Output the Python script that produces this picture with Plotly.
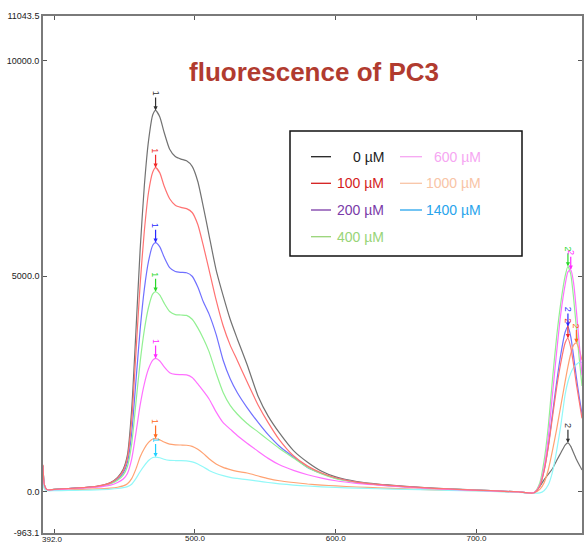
import plotly.graph_objects as go

# ---------------- data ----------------
wavelengths = [392, 393, 395, 400, 410, 420, 430, 440, 445, 449, 452, 455, 458, 461, 464, 467, 470, 472,
               475, 478, 482, 486, 490, 494, 498, 502, 506, 510, 515, 520, 525, 530, 537, 545, 552, 560,
               570, 580, 590, 600, 615, 630, 650, 670, 690, 710, 730, 741, 745, 748, 751, 754, 757, 760,
               763, 765, 767, 769, 771, 773, 775]

i_0 = [600, 150, 40, 50, 70, 90, 120, 210, 330, 520, 850, 1900, 3700, 5600, 7100, 8150, 8750, 8850,
       8700, 8350, 7950, 7780, 7720, 7680, 7550, 7200, 6600, 5950, 5150, 4550, 4000, 3550, 2950, 2200, 1750, 1360,
       950, 680, 470, 340, 230, 170, 120, 80, 50, 20, -10, -30, 120, 270, 400, 530, 720, 900,
       1080, 1130, 1050, 900, 750, 620, 500]

i_100 = [620, 150, 40, 50, 70, 90, 120, 200, 310, 480, 780, 1650, 3200, 4800, 6050, 6950, 7420, 7520,
         7400, 7100, 6800, 6650, 6600, 6570, 6480, 6200, 5700, 5150, 4450, 3850, 3400, 3050, 2550, 2000, 1600, 1200,
         830, 590, 430, 320, 220, 165, 115, 75, 45, 20, -10, -30, 130, 470, 1020, 1720, 2420, 3000,
         3450, 3560, 3350, 2950, 2500, 2100, 1700]

i_200 = [600, 150, 40, 50, 70, 90, 115, 190, 290, 430, 680, 1350, 2550, 3750, 4700, 5350, 5720, 5780,
         5680, 5450, 5200, 5110, 5090, 5080, 5000, 4750, 4400, 4120, 3650, 3050, 2620, 2300, 1950, 1600, 1320, 1050,
         800, 560, 420, 310, 215, 160, 110, 70, 45, 20, -10, -25, 130, 480, 1050, 1800, 2550, 3200,
         3700, 3830, 3600, 3150, 2650, 2200, 1800]

i_400 = [600, 150, 40, 50, 65, 85, 110, 180, 260, 380, 580, 1100, 2050, 3000, 3750, 4280, 4590, 4640,
         4560, 4380, 4180, 4110, 4100, 4090, 4000, 3800, 3550, 3250, 2750, 2300, 2000, 1800, 1580, 1380, 1200, 1000,
         780, 560, 410, 300, 210, 155, 105, 70, 45, 20, -10, -25, 200, 700, 1500, 2600, 3600, 4400,
         5000, 5230, 5050, 4500, 3800, 3100, 2450]

i_600 = [580, 140, 40, 45, 60, 80, 100, 150, 210, 290, 420, 750, 1350, 2000, 2500, 2850, 3050, 3090,
         3030, 2900, 2760, 2720, 2715, 2710, 2650, 2500, 2330, 2150, 1850, 1600, 1450, 1300, 1120, 930, 770, 620,
         490, 390, 310, 250, 190, 150, 100, 65, 40, 15, -10, -25, 150, 550, 1250, 2250, 3250, 4150,
         4800, 5100, 5150, 4850, 4200, 3450, 2700]

i_1000 = [300, 80, 30, 30, 40, 50, 60, 80, 100, 130, 180, 300, 520, 800, 1000, 1140, 1220, 1230,
          1200, 1150, 1100, 1085, 1080, 1075, 1050, 980, 880, 760, 640, 560, 510, 470, 430, 360, 300, 250,
          210, 175, 150, 130, 105, 85, 60, 40, 25, 10, -15, -30, 50, 200, 500, 950, 1450, 2000,
          2550, 2900, 3200, 3400, 3450, 3300, 3050]

i_1400 = [250, 60, 20, 20, 25, 30, 40, 55, 70, 90, 115, 170, 300, 460, 600, 720, 790, 800,
          785, 750, 725, 720, 718, 712, 690, 640, 570, 490, 420, 370, 330, 305, 275, 240, 210, 180,
          150, 128, 110, 95, 80, 65, 50, 35, 20, 5, -20, -35, -30, 20, 150, 450, 950, 1550,
          2250, 2550, 2750, 2880, 2950, 3000, 3000]

conc_labels = ["0 µM", "100 µM", "200 µM", "400 µM", "600 µM", "1000 µM", "1400 µM"]
series = [i_0, i_100, i_200, i_400, i_600, i_1000, i_1400]

line_colors = ["#727272", "#ff7272", "#7070ff", "#92f092", "#ff70ff", "#ffa272", "#92f8f8"]
mark_colors = ["#303030", "#f02828", "#2a2aff", "#2ad82a", "#ff2aff", "#ff6a20", "#20d0ff"]
legend_colors = ["#222222", "#d41c1c", "#7a3aa8", "#98d478", "#f6a6f2", "#f8c4a6", "#28a4ec"]
has_second_mark = [True, True, True, True, True, True, False]

y_tickvals = [-963.1, 0.0, 5000.0, 10000.0, 11043.5]
y_ticktext = ["-963.1", "0.0", "5000.0", "10000.0", "11043.5"]
x_tickvals = [400, 500, 600, 700, 775]
x_ticktext = ["", "500.0", "600.0", "700.0", "775"]
x_start_label = "392.0"
x_start_value = 392

title_text = "fluorescence of PC3"

# ---------------- layout constants ----------------
W, H = 584, 545
ML, MR, MT, MB = 43, 2, 16, 12
PW, PH = W - ML - MR, H - MT - MB


def px(xp):
    return (xp - ML) / PW


def py(yp):
    return (H - MB - yp) / PH


fig = go.Figure()

draw_order = [0, 2, 3, 5, 6, 4, 1]
for k in draw_order:
    fig.add_trace(go.Scatter(
        x=wavelengths, y=series[k], mode="lines", name=conc_labels[k],
        line=dict(color=line_colors[k], width=1.2, shape="spline", smoothing=0.6),
        showlegend=False, hoverinfo="skip"))

annotations = []
shapes = []

# peak marks "1" and "2"
for k, ys in enumerate(series):
    idx1 = max((i for i, w in enumerate(wavelengths) if 440 <= w <= 520), key=lambda i: ys[i])
    annotations.append(dict(
        x=wavelengths[idx1], y=ys[idx1], xref="x", yref="y", text="1", showarrow=True,
        ax=0, ay=-17, arrowhead=2, arrowsize=0.7, arrowwidth=1.2, arrowcolor=mark_colors[k],
        textangle=90, font=dict(size=9, color=mark_colors[k], family="Liberation Sans"), standoff=0))
    if has_second_mark[k]:
        idx2 = max((i for i, w in enumerate(wavelengths) if 740 <= w <= 775), key=lambda i: ys[i])
        annotations.append(dict(
            x=wavelengths[idx2], y=ys[idx2], xref="x", yref="y", text="2", showarrow=True,
            ax=0, ay=-17, arrowhead=2, arrowsize=0.7, arrowwidth=1.2, arrowcolor=mark_colors[k],
            textangle=90, font=dict(size=9, color=mark_colors[k], family="Liberation Sans"), standoff=0))

# start label of the x axis (placed a little to the right so it clears the -963.1 label)
annotations.append(dict(
    x=x_start_value, y=0, xref="x", yref="paper", text=x_start_label, showarrow=False,
    xanchor="center", yanchor="top", xshift=9, yshift=0,
    font=dict(size=8, color="#222222", family="Liberation Sans")))

# title
annotations.append(dict(
    x=px(314), y=py(72), xref="paper", yref="paper", text="<b>" + title_text + "</b>",
    showarrow=False, xanchor="center", yanchor="middle",
    font=dict(size=26, color="#b13b2f", family="Liberation Sans")))

# custom legend box
shapes.append(dict(type="rect", xref="paper", yref="paper",
                   x0=px(290), x1=px(522), y0=py(256), y1=py(131),
                   line=dict(color="#111111", width=1.5), fillcolor="rgba(255,255,255,0)"))
row_y = [156.7, 183.3, 210, 236.7]
for k, lab in enumerate(conc_labels):
    col = 0 if k < 4 else 1
    row = k if k < 4 else k - 4
    lx0, lx1, tx = (311, 331, 385.5) if col == 0 else (400, 422, 483)
    yy = py(row_y[row])
    shapes.append(dict(type="line", xref="paper", yref="paper", x0=px(lx0), x1=px(lx1), y0=yy, y1=yy,
                       line=dict(color=legend_colors[k], width=1.3)))
    annotations.append(dict(x=px(tx), y=yy, xref="paper", yref="paper", text=lab, showarrow=False,
                            xanchor="right", yanchor="middle",
                            font=dict(size=14, color=legend_colors[k], family="Liberation Sans")))

axis_common = dict(showline=True, linecolor="#7a7a7a", linewidth=1.6, mirror="ticks",
                   ticks="inside", ticklen=4, tickcolor="#555555", tickwidth=1,
                   showgrid=False, zeroline=False, automargin=False)

fig.update_layout(
    width=W, height=H,
    margin=dict(l=ML, r=MR, t=MT, b=MB, pad=0, autoexpand=False),
    paper_bgcolor="white", plot_bgcolor="white",
    xaxis=dict(range=[392, 775], tickmode="array", tickvals=x_tickvals, ticktext=x_ticktext,
               ticklabelstandoff=-3,
               tickfont=dict(size=8, color="#222222", family="Liberation Sans"), **axis_common),
    yaxis=dict(range=[-963.1, 11043.5], tickmode="array", tickvals=y_tickvals, ticktext=y_ticktext,
               tickfont=dict(size=9, color="#222222", family="Liberation Sans"), **axis_common),
    annotations=annotations, shapes=shapes, showlegend=False,
)

fig.write_html("out.html")
